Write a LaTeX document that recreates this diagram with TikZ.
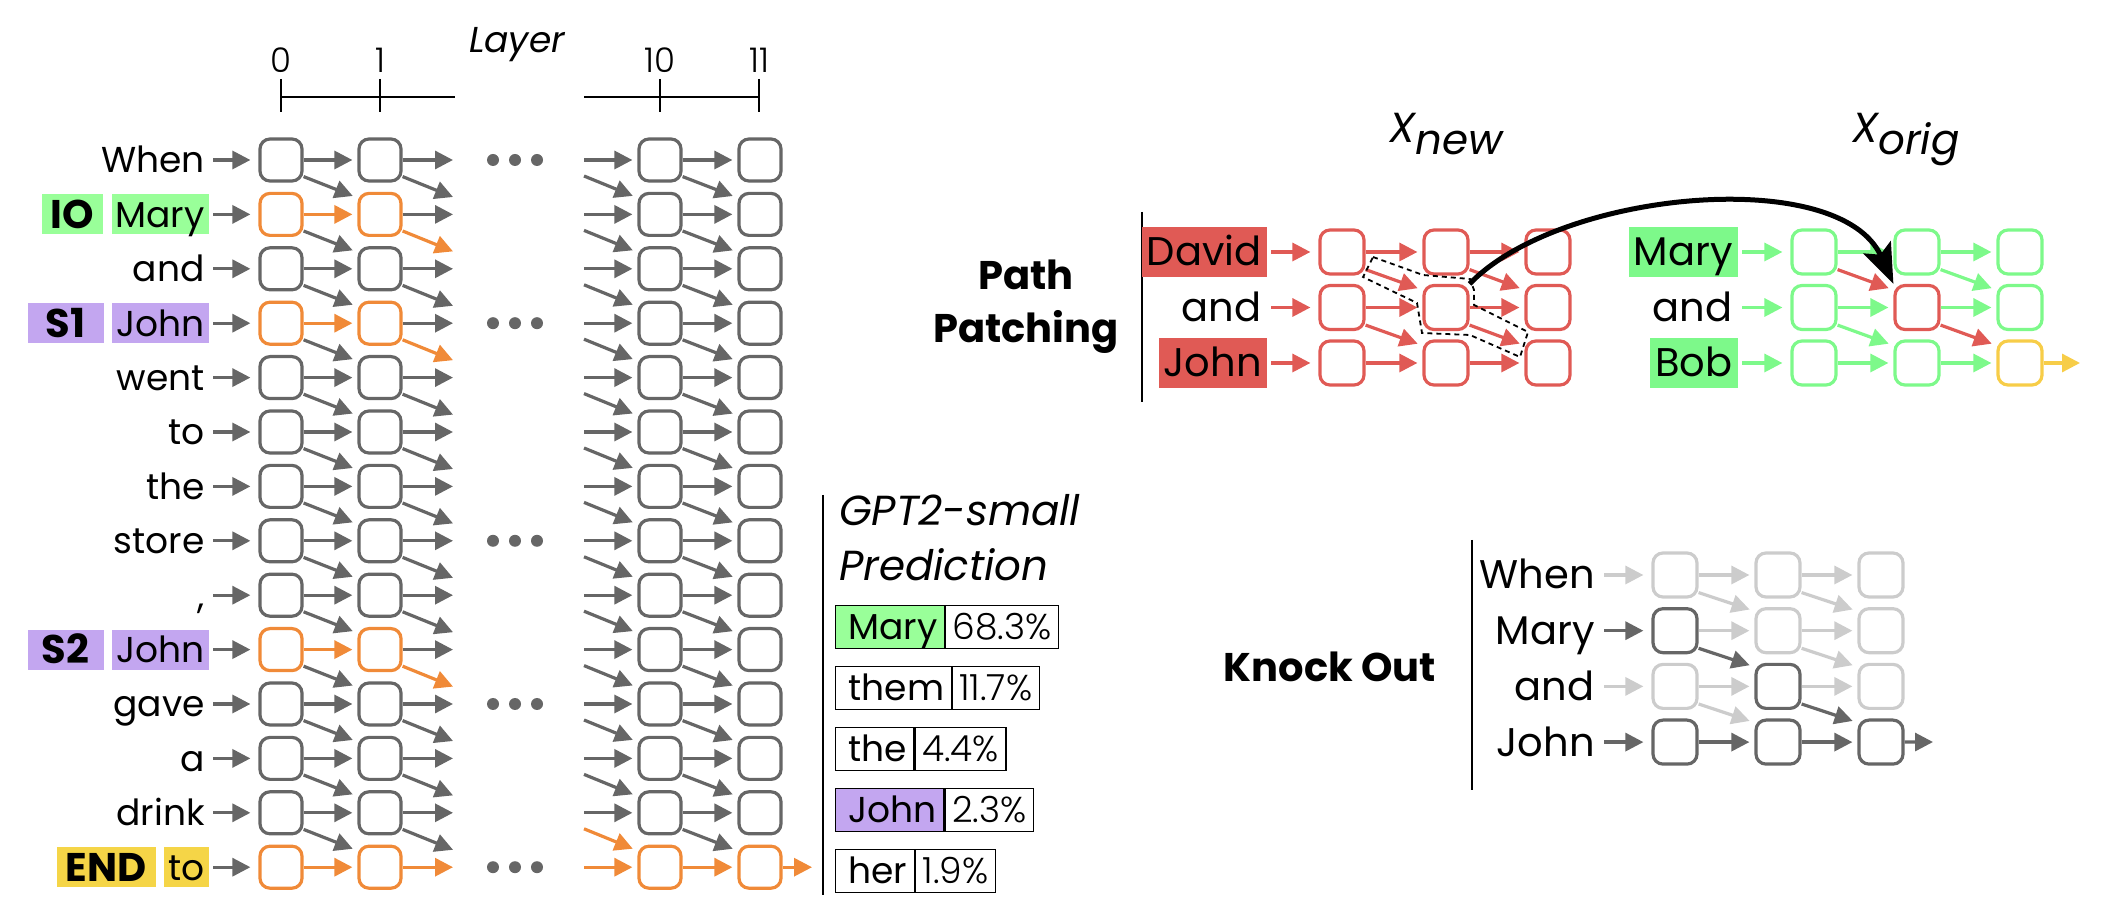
\documentclass[tikz,border=0pt]{standalone}
\usepackage{fontspec}
\setmainfont{Poppins}
\IfFontExistsTF{Poppins Light}{\newfontfamily\lightfont{Poppins Light}}{\newcommand\lightfont{}}
\usetikzlibrary{arrows.meta,positioning}

\definecolor{boxgray}{HTML}{666666}
\definecolor{fadegray}{HTML}{CCCCCC}
\definecolor{pathorange}{HTML}{F08A38}
\definecolor{iogreen}{HTML}{99FF99}
\definecolor{spurple}{HTML}{C3A6F0}
\definecolor{endyellow}{HTML}{F5D547}
\definecolor{newred}{HTML}{E05A55}
\definecolor{origgreen}{HTML}{7DF98A}
\definecolor{outyellow}{HTML}{F7CD48}

\tikzset{
  cell/.style={draw=boxgray, rounded corners=5pt, line width=1.6pt,
    minimum size=21pt, inner sep=0pt},
  link/.style={line width=1.6pt, boxgray, shorten >=2.5pt,
    -{Triangle[length=9pt,width=9pt]}},
  feed/.style={shorten <=2pt, shorten >=4pt},
  loose/.style={shorten >=0pt},
  word/.style={font=\fontsize{18}{20}\selectfont, anchor=east, fill=white,
    inner xsep=2pt, inner ysep=0pt, text height=13pt, text depth=0pt,
    minimum height=20pt},
  tag/.style={word, font=\fontsize{20}{22}\selectfont\bfseries,
    inner xsep=4.5pt, text height=14pt},
  bigword/.style={word, font=\fontsize{20}{22}\selectfont, inner xsep=2.5pt,
    text height=14pt, minimum height=25pt},
  pred/.style={draw=black, line width=0.6pt, font=\fontsize{18}{20}\selectfont,
    inner xsep=3.5pt, inner ysep=0pt, text height=12.5pt, text depth=0pt,
    minimum height=21.5pt},
  title/.style={font=\fontsize{20}{26.5}\selectfont\bfseries, align=center},
  bar/.style={line width=1.4pt},
}

\begin{document}
\begin{tikzpicture}[x=0.5pt,y=-0.5pt]
  \useasboundingbox (0,0) rectangle (2116,924);

  % Eje de capas
  \draw[line width=0.7pt] (281,97) -- (455,97);
  \draw[line width=0.7pt] (584,97) -- (759,97);
  \foreach \x/\l in {281/0,380/1,660/10,759/11}{
    \draw[line width=0.7pt] (\x,79) -- (\x,112);
    \node[font=\fontsize{17}{20}\selectfont\lightfont] (ax\l) at (\x,60) {\l};
  }
  \node[font=\fontsize{18}{20}\selectfont\itshape] (layer) at (517,45) {Layer};

  % Tokens y capas 0 y 1
  \foreach \tok/\bg/\cl/\hc/\dc [count=\r from 0] in {
      When/white/boxgray/boxgray/boxgray,
      Mary/iogreen/pathorange/boxgray/pathorange,
      and/white/boxgray/boxgray/boxgray,
      John/spurple/pathorange/boxgray/pathorange,
      went/white/boxgray/boxgray/boxgray,
      to/white/boxgray/boxgray/boxgray,
      the/white/boxgray/boxgray/boxgray,
      store/white/boxgray/boxgray/boxgray,
      {,}/white/boxgray/boxgray/boxgray,
      John/spurple/pathorange/boxgray/pathorange,
      gave/white/boxgray/boxgray/boxgray,
      a/white/boxgray/boxgray/boxgray,
      drink/white/boxgray/boxgray/boxgray,
      to/endyellow/pathorange/pathorange/boxgray}{
    \node[word, fill=\bg] (w\r) at (209,{160+54.4*\r}) {\tok};
    \node[cell, draw=\cl] (a\r) at (281,{160+54.4*\r}) {};
    \node[cell, draw=\cl] (b\r) at (380,{160+54.4*\r}) {};
    \coordinate (bh\r) at (453,{160+54.4*\r});
    \coordinate (bd\r) at (453,{197+54.4*\r});
    \draw[link, feed] (w\r) -- (a\r);
    \draw[link, \cl] (a\r) -- (b\r);
    \draw[link, loose, \hc] (b\r) -- (bh\r);
    \ifnum\r<13
      \draw[link, loose, \dc] ([yshift=3pt]b\r.south east) -- (bd\r);
    \fi
  }
  \foreach \r [evaluate=\r as \n using int(\r+1)] in {0,...,12}
    \draw[link] ([yshift=3pt]a\r.south east) -- ([yshift=-3pt]b\n.north west);

  % Etiquetas de rol
  \node[tag, fill=iogreen, left=4pt of w1] (io) {IO};
  \node[tag, fill=spurple, minimum width=38pt, left=4pt of w3] (s1) {S1};
  \node[tag, fill=spurple, minimum width=38pt, left=4pt of w9] (s2) {S2};
  \node[tag, fill=endyellow, left=4pt of w13] (end) {END};

  % Puntos suspensivos
  \foreach \r in {0,3,7,10,13}
    \foreach \x in {493,515,537}
      \fill[boxgray] (\x,{160+54.4*\r}) circle (3pt);

  % Capas 10 y 11
  \foreach \r [evaluate=\r as \p using int(\r-1)] in {0,...,13}{
    \ifnum\r=13 \def\cl{pathorange}\else\def\cl{boxgray}\fi
    \node[cell, draw=\cl] (c\r) at (660,{160+54.4*\r}) {};
    \node[cell, draw=\cl] (d\r) at (760,{160+54.4*\r}) {};
    \coordinate (ch\r) at (584,{160+54.4*\r});
    \draw[link, \cl] (ch\r) -- (c\r);
    \draw[link, \cl] (c\r) -- (d\r);
    \ifnum\r>0
      \coordinate (cd\r) at (584,{121.6+54.4*\r});
      \draw[link, \cl] (cd\r) -- ([yshift=-3pt]c\r.north west);
      \draw[link] ([yshift=3pt]c\p.south east) -- ([yshift=-3pt]d\r.north west);
    \fi
  }
  \coordinate (out) at (812,{160+54.4*13});
  \draw[link, loose, pathorange] (d13) -- (out);

  % Prediccion
  \draw[bar] (823,495) -- (823,895);
  \node[font=\fontsize{21}{25}\selectfont\itshape, anchor=base west] (gpt) at (832,526) {GPT2-small};
  \node[font=\fontsize{21}{25}\selectfont\itshape, anchor=base west] (predict) at (832,581) {Prediction};
  \foreach \tok/\val/\bg [count=\i] in {Mary/68.3/iogreen, them/11.7/white,
      the/4.4/white, John/2.3/spurple, her/1.9/white}{
    \node[pred, fill=\bg, anchor=west] (p\i) at (835,{566+61*\i}) {\hspace*{3pt}\tok};
    \node[pred, right=0pt of p\i, font=\fontsize{18}{20}\selectfont\lightfont] (v\i) {\val\%};
  }

  % Path patching
  \node[title] (pp) at (1026,307) {Path\\Patching};
  \draw[bar] (1142,212) -- (1142,402);
  \node[font=\fontsize{21}{24}\selectfont\itshape, anchor=base] (xnew) at (1446,143) {X\raisebox{-6pt}{new}};
  \node[font=\fontsize{21}{24}\selectfont\itshape, anchor=base] (xorig) at (1906,143) {X\raisebox{-6pt}{orig}};

  \foreach \tok/\bg [count=\r from 0] in {David/newred, and/white, John/newred}{
    \node[bigword, fill=\bg] (nw\r) at (1267,{252+55.5*\r}) {\tok};
    \foreach \q/\x in {0/1342,1/1446,2/1548}
      \node[cell, minimum size=22pt, draw=newred] (n\q\r) at (\x,{252+55.5*\r}) {};
    \draw[link, feed, newred] (nw\r) -- (n0\r);
    \draw[link, newred] (n0\r) -- (n1\r);
    \draw[link, newred] (n1\r) -- (n2\r);
  }
  \foreach \r/\n in {0/1,1/2}{
    \draw[link, newred] ([yshift=3pt]n0\r.south east) -- ([yshift=-3pt]n1\n.north west);
    \draw[link, newred] ([yshift=3pt]n1\r.south east) -- ([yshift=-3pt]n2\n.north west);
  }

  \foreach \tok/\bg [count=\r from 0] in {Mary/origgreen, and/white, Bob/origgreen}{
    \node[bigword, fill=\bg] (ow\r) at (1738,{252+55.5*\r}) {\tok};
    \foreach \q/\x in {0/1814,1/1917,2/2020}{
      \def\cl{origgreen}
      \ifnum\q\r=11 \def\cl{newred}\fi
      \ifnum\q\r=22 \def\cl{outyellow}\fi
      \node[cell, minimum size=22pt, draw=\cl] (o\q\r) at (\x,{252+55.5*\r}) {};
    }
    \draw[link, feed, origgreen] (ow\r) -- (o0\r);
    \draw[link, origgreen] (o0\r) -- (o1\r);
    \draw[link, origgreen] (o1\r) -- (o2\r);
  }
  \foreach \src/\dst/\cl in {o00/o11/newred, o01/o12/origgreen,
      o10/o21/origgreen, o11/o22/newred}
    \draw[link, \cl] ([yshift=3pt]\src.south east) -- ([yshift=-3pt]\dst.north west);
  \coordinate (oout) at (2080,363);
  \draw[link, loose, outyellow] (o22) -- (oout);

  % Camino parcheado
  \draw[line width=0.9pt, dash pattern=on 2.5pt off 2pt]
    (1373,257) -- (1423,275) -- (1470,279) -- (1474,290) -- (1474,305)
    -- (1528,332) -- (1520,357) -- (1470,335) -- (1422,333) -- (1417,303)
    -- (1363,277) -- cycle;
  \draw[line width=2.5pt, -{Stealth[length=20pt,width=15pt,inset=4pt]}]
    (n11.north east) .. controls (1560,190) and (1840,165) .. (o11.north west);

  % Knock out
  \node[title] (ko) at (1330,667) {Knock Out};
  \draw[bar] (1472,540) -- (1472,790);
  \foreach \tok [count=\r from 0] in {When,Mary,and,John}{
    \node[bigword] (kw\r) at (1600,{575+55.7*\r}) {\tok};
    \foreach \q/\x in {0/1675,1/1778,2/1881}{
      \def\cl{fadegray}
      \ifnum\r=3 \def\cl{boxgray}\fi
      \ifnum\q\r=1 \def\cl{boxgray}\fi
      \ifnum\q\r=12 \def\cl{boxgray}\fi
      \node[cell, minimum size=22pt, draw=\cl] (k\q\r) at (\x,{575+55.7*\r}) {};
    }
  }
  \foreach \r/\cl in {0/fadegray,2/fadegray,1/boxgray,3/boxgray}
    \draw[link, feed, \cl] (kw\r) -- (k0\r);
  \foreach \r/\cl in {0/fadegray,1/fadegray,2/fadegray,3/boxgray}{
    \draw[link, \cl] (k0\r) -- (k1\r);
    \draw[link, \cl] (k1\r) -- (k2\r);
  }
  \foreach \src/\dst/\cl in {k00/k11/fadegray, k02/k13/fadegray, k10/k21/fadegray,
      k11/k22/fadegray, k01/k12/boxgray, k12/k23/boxgray}
    \draw[link, \cl] ([yshift=3pt]\src.south east) -- ([yshift=-2pt]\dst.north west);
  \coordinate (kout) at (1933,742);
  \draw[link, loose, boxgray] (k23) -- (kout);
\end{tikzpicture}
\end{document}
